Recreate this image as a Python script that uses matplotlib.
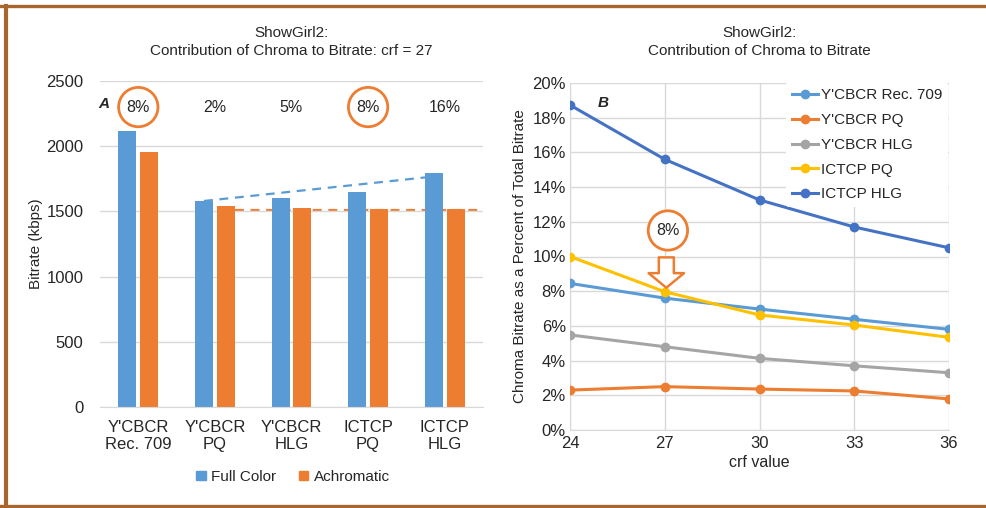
import matplotlib
matplotlib.use("Agg")
import matplotlib.pyplot as plt
import numpy as np
from matplotlib.lines import Line2D
from matplotlib.patches import Patch

plt.rcParams['font.family'] = ['Liberation Sans', 'DejaVu Sans']

# panel A data
categories = ["Y'CBCR\nRec. 709", "Y'CBCR\nPQ", "Y'CBCR\nHLG", "ICTCP\nPQ", "ICTCP\nHLG"]
full_color = [2117, 1580, 1600, 1649, 1794]
achromatic = [1956, 1540, 1524, 1522, 1518]
chroma_pct = ['8%', '2%', '5%', '8%', '16%']
circled = [True, False, False, True, False]

# panel B data
crf = [24, 27, 30, 33, 36]
ycbcr_709 = [8.45, 7.6, 6.97, 6.38, 5.8]
ycbcr_pq = [2.3, 2.5, 2.36, 2.25, 1.79]
ycbcr_hlg = [5.48, 4.8, 4.13, 3.7, 3.3]
ictcp_pq = [10.0, 7.97, 6.63, 6.05, 5.34]
ictcp_hlg = [18.73, 15.6, 13.26, 11.7, 10.5]
series_names = ["Y'CBCR Rec. 709", "Y'CBCR PQ", "Y'CBCR HLG", "ICTCP PQ", "ICTCP HLG"]

blue = '#5B9BD5'
orange = '#ED7D31'
gray = '#A5A5A5'
yellow = '#FFC000'
dblue = '#4472C4'
txt = '#262626'
grid = '#D9D9D9'
brown = '#A8652C'

fig = plt.figure(figsize=(9.86, 5.08), dpi=100)

# ---------- panel A ----------
ax1 = fig.add_axes([100/986, 1-407/508, 383/986, 326/508])
x = np.arange(len(categories))
w = 0.235
ax1.bar(x - 0.143, full_color, w, color=blue, zorder=2)
ax1.bar(x + 0.143, achromatic, w, color=orange, zorder=2)
ax1.set_xlim(-0.5, 4.5)
ax1.set_ylim(0, 2500)
ax1.set_yticks([0, 500, 1000, 1500, 2000, 2500])
ax1.set_xticks(x)
ax1.set_xticklabels(categories, fontsize=12, color=txt, linespacing=1.2)
ax1.tick_params(axis='both', length=0, labelsize=12, labelcolor=txt)
ax1.tick_params(axis='x', pad=9)
ax1.tick_params(axis='y', pad=12)
ax1.grid(axis='y', color=grid, lw=1, zorder=0)
for s in ['top', 'right', 'left']:
    ax1.spines[s].set_visible(False)
ax1.spines['bottom'].set_color(grid)
ax1.set_ylabel('Bitrate (kbps)', fontsize=11, color=txt, labelpad=2)
ax1.set_title("ShowGirl2:\nContribution of Chroma to Bitrate: crf = 27",
              fontsize=11, color=txt, pad=19, linespacing=1.3)

# dashed guide lines
ax1.plot([1 - 0.143, 4 - 0.2], [full_color[1], full_color[4] - 30],
         ls=(0, (4, 3)), color=blue, lw=1.6, zorder=3)
ax1.plot([1 + 0.26, 4.5], [achromatic[4] - 5, achromatic[4] - 5],
         ls=(0, (4, 3)), color=orange, lw=1.6, zorder=1)

for i, (p, c) in enumerate(zip(chroma_pct, circled)):
    bb = dict(boxstyle='circle,pad=0.5', fc='white', ec=orange, lw=2) if c else None
    ax1.text(i, 2300, p, ha='center', va='center', fontsize=11.5, color=txt, bbox=bb)
ax1.text(-0.005, 2325, 'A', transform=ax1.get_yaxis_transform(), ha='left', va='center',
         fontsize=11, fontweight='bold', fontstyle='italic', color=txt)

handles = [Patch(color=blue), Patch(color=orange)]
fig.legend(handles, ['Full Color', 'Achromatic'], loc='center',
           bbox_to_anchor=(293/986, 1-477/508), ncol=2, frameon=False,
           fontsize=11, handlelength=0.6, handleheight=0.6, handletextpad=0.35,
           columnspacing=1.5, labelcolor=txt)

# ---------- panel B ----------
ax2 = fig.add_axes([570/986, 1-430/508, 379/986, 347/508])
colors = [blue, orange, gray, yellow, dblue]
for vals, name, col in zip([ycbcr_709, ycbcr_pq, ycbcr_hlg, ictcp_pq, ictcp_hlg],
                           series_names, colors):
    ax2.plot(crf, vals, color=col, lw=2.2, marker='o', ms=6, label=name, zorder=3)
ax2.set_xlim(24, 36)
ax2.set_ylim(0, 20)
ax2.set_xticks(crf)
ax2.set_yticks(range(0, 21, 2))
ax2.set_yticklabels([f'{v}%' for v in range(0, 21, 2)])
ax2.tick_params(axis='both', length=0, labelsize=12, labelcolor=txt)
ax2.tick_params(axis='y', pad=3)
ax2.tick_params(axis='x', pad=4)
ax2.grid(True, color=grid, lw=1, zorder=0)
for s in ['top', 'right']:
    ax2.spines[s].set_visible(False)
ax2.spines['left'].set_color(grid)
ax2.spines['bottom'].set_color(grid)
ax2.set_xlabel('crf value', fontsize=11.5, color=txt, labelpad=3)
ax2.set_ylabel('Chroma Bitrate as a Percent of Total Bitrate', fontsize=11,
               color=txt, labelpad=4)
ax2.set_title("ShowGirl2:\nContribution of Chroma to Bitrate", fontsize=11,
              color=txt, pad=20.5, linespacing=1.3)
leg = ax2.legend(loc='upper right', bbox_to_anchor=(1.01, 1.015), frameon=True,
                 fontsize=11, handlelength=1.7, handletextpad=0.2,
                 labelspacing=0.7, borderaxespad=0.3, labelcolor=txt)
leg.get_frame().set_facecolor('white')
leg.get_frame().set_edgecolor('none')
leg.get_frame().set_alpha(1)

ax2.text(25.05, 18.85, 'B', ha='center', va='center', fontsize=11,
         fontweight='bold', fontstyle='italic', color=txt)
ax2.text(27.1, 11.5, '8%', ha='center', va='center', fontsize=11.5, color=txt,
         bbox=dict(boxstyle='circle,pad=0.5', fc='white', ec=orange, lw=2))
ax2.annotate('', xy=(27.05, 8.2), xytext=(27.05, 9.95),
             arrowprops=dict(arrowstyle='simple,head_length=0.7,head_width=1.7,tail_width=0.72',
                             mutation_scale=15, fc='white', ec=orange, lw=1.8,
                             shrinkA=0, shrinkB=0), zorder=5)

# frame
fig.add_artist(Line2D([0, 1], [1-5.5/508, 1-5.5/508], transform=fig.transFigure,
                      color=brown, lw=2.4))
fig.add_artist(Line2D([6/986, 6/986], [1-5.5/508, 1-506/508], transform=fig.transFigure,
                      color=brown, lw=3))
fig.add_artist(Line2D([0, 1], [1-506/508, 1-506/508], transform=fig.transFigure,
                      color=brown, lw=2.4))

fig.savefig('out.png', dpi=100)
